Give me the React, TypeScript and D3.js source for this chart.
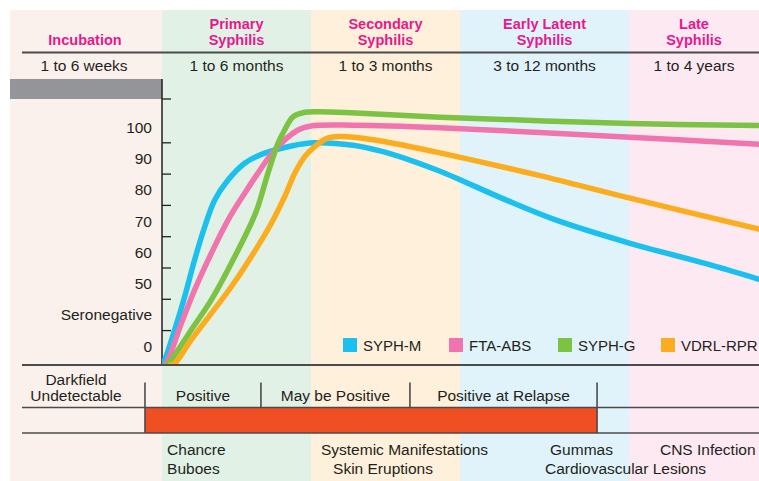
import React from 'react';
import * as d3 from 'd3';

// ---- data ----
const stageTitles: string[][] = [
  ['Incubation'],
  ['Primary', 'Syphilis'],
  ['Secondary', 'Syphilis'],
  ['Early Latent', 'Syphilis'],
  ['Late', 'Syphilis'],
];
const stageDurations = ['1 to 6 weeks', '1 to 6 months', '1 to 3 months', '3 to 12 months', '1 to 4 years'];
const stageColors = ['#fbf1ec', '#e2f1e6', '#fef0da', '#e0f3fb', '#fde9f2'];
const stageBounds = [0, 1, 2, 3, 4, 5];

const yTickValues = [10, 20, 30, 40, 50, 60, 70, 84];
const yLabelValues = [5, 15, 25, 35, 45, 55, 65, 75];
const yLabels = ['0', 'Seronegative', '50', '60', '70', '80', '90', '100'];

const seriesNames = ['SYPH-M', 'FTA-ABS', 'SYPH-G', 'VDRL-RPR'];
const seriesColors = ['#1cc0ef', '#f074ad', '#7cc243', '#fbad1f'];

const syphM: [number, number][] = [
  [1.0, -1], [1.018, 0.6], [1.085, 10.2], [1.152, 20.8], [1.219, 32.6], [1.287, 43.2],
  [1.354, 51.7], [1.443, 58.1], [1.555, 63.5], [1.689, 66.7], [1.868, 69.0], [2.025, 70.0],
  [2.282, 69.2], [2.463, 67.4], [2.644, 64.8], [2.866, 60.9], [3.0, 58.2], [3.278, 51.6],
  [3.574, 45.2], [4.008, 37.9], [4.6, 31.3], [5.0, 26.4],
];
const ftaAbs: [number, number][] = [
  [1.02, -1], [1.04, 0.6], [1.13, 12.3], [1.219, 23.0], [1.331, 34.7], [1.443, 45.3],
  [1.555, 53.9], [1.644, 60.3], [1.756, 67.7], [1.913, 74.1], [2.0, 75.4], [2.3, 75.6],
  [2.866, 74.8], [4.008, 71.8], [5.0, 69.5],
];
const syphG: [number, number][] = [
  [1.03, -1], [1.062, 0.6], [1.196, 10.2], [1.331, 19.8], [1.465, 31.5], [1.599, 44.3],
  [1.644, 49.6], [1.711, 60.3], [1.779, 69.9], [1.823, 74.1], [1.879, 78.3], [1.946, 79.6],
  [2.05, 79.9], [2.3, 79.5], [2.866, 78.2], [4.008, 76.2], [5.0, 75.5],
];
const vdrlRpr: [number, number][] = [
  [1.054, -1], [1.085, -0.5], [1.196, 7.0], [1.331, 15.5], [1.465, 24.0], [1.599, 33.6],
  [1.734, 44.3], [1.823, 52.8], [1.891, 60.3], [1.958, 65.6], [2.025, 68.8], [2.107, 71.4],
  [2.195, 72.0], [2.416, 71.0], [2.644, 69.0], [2.866, 66.8], [3.473, 59.5], [4.008, 52.3],
  [5.0, 42.4],
];
const seriesData = [syphM, ftaAbs, syphG, vdrlRpr];

const darkfieldBreaks = [0.888, 1.664, 2.664, 3.811];
const darkfieldLabels = ['Positive', 'May be Positive', 'Positive at Relapse'];
const lesionBarRange = [0.888, 3.811];

const manifestations: { text: string; x: number; line: number }[] = [
  { text: 'Chancre', x: 1.034, line: 0 },
  { text: 'Buboes', x: 1.034, line: 1 },
  { text: 'Systemic Manifestations', x: 2.067, line: 0 },
  { text: 'Skin Eruptions', x: 2.148, line: 1 },
  { text: 'Gummas', x: 3.533, line: 0 },
  { text: 'Cardiovascular Lesions', x: 3.503, line: 1 },
  { text: 'CNS Infection', x: 4.238, line: 0 },
];

// ---- layout ----
const W = 759;
const H = 481;
const FONT = '"Liberation Sans", Arial, Helvetica, sans-serif';
const INK = '#231f20';
const RULE = '#4b4b4d';
const MAGENTA = '#e8178c';

export default function App() {
  const x = d3.scaleLinear().domain(stageBounds).range([10, 162, 311, 460, 629, 759]);
  const y = d3.scaleLinear().domain([-1, 84]).range([365, 99]);
  const line = d3
    .line<[number, number]>()
    .x((d) => x(d[0]))
    .y((d) => y(d[1]))
    .curve(d3.curveCatmullRom.alpha(0.5));

  const axisX = x(1);
  const legendX = [343, 449, 558, 661];

  const dfSegments = [22, ...darkfieldBreaks.map((b) => x(b))];

  return (
    <svg
      width={W}
      height={H}
      style={{ position: 'absolute', left: 0, top: 0, background: '#fff' }}
      fontFamily={FONT}
    >
      <defs>
        <clipPath id="plotClip">
          <rect x={axisX} y={80} width={W - axisX} height={285} />
        </clipPath>
      </defs>

      {/* stage bands */}
      {stageColors.map((c, i) => (
        <rect
          key={i}
          x={x(stageBounds[i])}
          y={10}
          width={x(stageBounds[i + 1]) - x(stageBounds[i])}
          height={H - 10}
          fill={c}
        />
      ))}

      {/* stage titles */}
      {stageTitles.map((lines, i) => {
        const cx = i === 0 ? 85 : (x(stageBounds[i]) + x(stageBounds[i + 1])) / 2;
        return lines.map((t, j) => (
          <text
            key={`${i}-${j}`}
            x={cx}
            y={44.5 - (lines.length - 1 - j) * 16}
            textAnchor="middle"
            fontSize={14.5}
            fontWeight="bold"
            fill={MAGENTA}
          >
            {t}
          </text>
        ));
      })}
      <line x1={22} x2={W} y1={52.5} y2={52.5} stroke={RULE} strokeWidth={1.8} />
      {stageDurations.map((t, i) => {
        const cx = i === 0 ? 84 : (x(stageBounds[i]) + x(stageBounds[i + 1])) / 2;
        return (
          <text key={i} x={cx} y={70.5} textAnchor="middle" fontSize={15.5} fill={INK}>
            {t}
          </text>
        );
      })}

      {/* gray bar */}
      <rect x={10} y={79} width={axisX - 10} height={20} fill="#939598" />

      {/* y axis */}
      <line x1={axisX} x2={axisX} y1={79} y2={365} stroke={INK} strokeWidth={1.5} />
      {yTickValues.map((v) => (
        <line key={v} x1={axisX} x2={axisX + 9} y1={y(v)} y2={y(v)} stroke={INK} strokeWidth={1.3} />
      ))}
      {yLabelValues.map((v, i) => (
        <text key={i} x={152} y={y(v) + 5.5} textAnchor="end" fontSize={15.5} fill={INK}>
          {yLabels[i]}
        </text>
      ))}

      {/* curves */}
      <g clipPath="url(#plotClip)">
        {seriesData.map((d, i) => (
          <path
            key={i}
            d={line(d) || ''}
            fill="none"
            stroke={seriesColors[i]}
            strokeWidth={5.5}
            strokeLinecap="round"
            strokeLinejoin="round"
          />
        ))}
      </g>

      {/* legend */}
      {seriesNames.map((n, i) => (
        <g key={n}>
          <rect x={legendX[i]} y={338} width={14} height={14} fill={seriesColors[i]} />
          <text x={legendX[i] + 20} y={351} fontSize={15} fill={INK}>
            {n}
          </text>
        </g>
      ))}

      {/* baseline */}
      <line x1={22} x2={W} y1={365} y2={365} stroke={RULE} strokeWidth={2} />

      {/* darkfield section */}
      <text x={76} y={385} textAnchor="middle" fontSize={15.5} fill={INK}>
        Darkfield
      </text>
      <text x={76} y={400.5} textAnchor="middle" fontSize={15.5} fill={INK}>
        Undetectable
      </text>
      {darkfieldLabels.map((t, i) => (
        <text
          key={t}
          x={(dfSegments[i + 1] + dfSegments[i + 2]) / 2}
          y={400.5}
          textAnchor="middle"
          fontSize={15.5}
          fill={INK}
        >
          {t}
        </text>
      ))}
      <rect
        x={x(lesionBarRange[0])}
        y={408}
        width={x(lesionBarRange[1]) - x(lesionBarRange[0])}
        height={25}
        fill="#f04e23"
      />
      <line x1={22} x2={W} y1={407.5} y2={407.5} stroke={RULE} strokeWidth={1.6} />
      <line x1={22} x2={W} y1={433} y2={433} stroke={RULE} strokeWidth={1.6} />
      {darkfieldBreaks.map((b, i) => (
        <line
          key={i}
          x1={x(b)}
          x2={x(b)}
          y1={382.5}
          y2={i === 0 || i === darkfieldBreaks.length - 1 ? 433 : 407.5}
          stroke={RULE}
          strokeWidth={1.6}
        />
      ))}

      {/* manifestations */}
      {manifestations.map((m) => (
        <text key={m.text} x={x(m.x)} y={454.5 + m.line * 19.5} fontSize={15.5} fill={INK}>
          {m.text}
        </text>
      ))}
    </svg>
  );
}
